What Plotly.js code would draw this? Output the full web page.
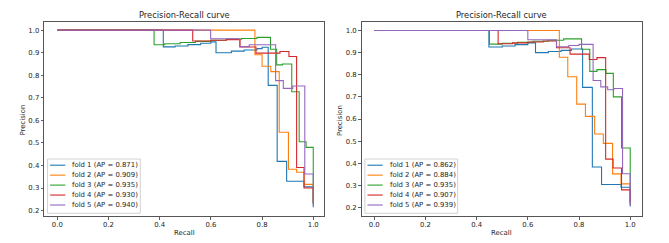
<!DOCTYPE html>
<html><head><meta charset="utf-8">
<script src="https://cdn.plot.ly/plotly-3.0.1.min.js"></script>
<style>html,body{margin:0;padding:0;background:#fff;}#chart{width:669px;height:243px;}</style>
</head><body><div id="chart"></div>
<script>
// ---- data ----
const foldNames = ['fold 1','fold 2','fold 3','fold 4','fold 5'];
const colors = ['#1f77b4','#ff7f0e','#2ca02c','#d62728','#9467bd'];
const apLeft  = ['0.871','0.909','0.935','0.930','0.940'];
const apRight = ['0.862','0.884','0.935','0.907','0.939'];

// Left panel
const L1r = [0,0.414,0.46,0.51,0.56,0.60,0.62,0.68,0.73,0.78,0.80,0.824,0.859,0.896,0.964,1.0];
const L1p = [1.0,0.926,0.930,0.936,0.942,0.948,0.900,0.907,0.912,0.918,0.924,0.755,0.418,0.330,0.305,0.215];
const L2r = [0,0.772,0.800,0.834,0.867,0.903,0.935,0.964,1.0];
const L2p = [1.0,0.891,0.840,0.816,0.547,0.383,0.370,0.316,0.240];
const L3r = [0,0.378,0.42,0.48,0.54,0.60,0.66,0.72,0.78,0.833,0.857,0.88,0.916,0.945,0.972,1.0];
const L3p = [1.0,0.935,0.940,0.945,0.950,0.955,0.960,0.963,0.968,0.915,0.846,0.850,0.727,0.505,0.480,0.230];
const L4r = [0,0.529,0.60,0.66,0.714,0.776,0.87,0.905,0.935,0.964,1.0];
const L4p = [1.0,0.952,0.955,0.958,0.925,0.898,0.905,0.883,0.391,0.300,0.235];
const L5r = [0,0.599,0.712,0.75,0.853,0.883,0.92,0.967,1.0];
const L5p = [1.0,0.962,0.927,0.935,0.776,0.742,0.752,0.362,0.225];

// Right panel
const R1r = [0,0.448,0.50,0.55,0.60,0.63,0.68,0.73,0.77,0.814,0.852,0.888,0.964,1.0];
const R1p = [1.0,0.925,0.930,0.936,0.944,0.900,0.905,0.910,0.916,0.743,0.383,0.304,0.292,0.205];
const R2r = [0,0.723,0.756,0.791,0.825,0.861,0.895,0.931,0.964,1.0];
const R2p = [1.0,0.879,0.791,0.667,0.612,0.532,0.490,0.352,0.307,0.215];
const R3r = [0,0.450,0.50,0.56,0.62,0.68,0.74,0.81,0.842,0.87,0.905,0.934,0.966,1.0];
const R3p = [1.0,0.938,0.942,0.946,0.951,0.956,0.962,0.915,0.815,0.823,0.806,0.700,0.469,0.220];
const R4r = [0,0.484,0.54,0.60,0.66,0.712,0.765,0.84,0.87,0.904,0.933,0.966,1.0];
const R4p = [1.0,0.940,0.944,0.948,0.952,0.922,0.893,0.869,0.877,0.419,0.379,0.280,0.225];
const R5r = [0,0.600,0.712,0.76,0.80,0.855,0.885,0.912,0.936,0.970,1.0];
const R5p = [1.0,0.958,0.926,0.932,0.937,0.774,0.745,0.732,0.738,0.353,0.210];

const xTicks = [0,0.2,0.4,0.6,0.8,1.0];
const yTicks = [0.2,0.3,0.4,0.5,0.6,0.7,0.8,0.9,1.0];
const titleText = 'Precision-Recall curve';

// ---- layout helpers ----
const W = 669, H = 243;
const px = x => x / W;
const py = y => 1 - y / H;
const FONT = 'DejaVu Sans, sans-serif';
const TXT = '#262626';
const FS = 6.9;

const leftCurves = [[L1r,L1p],[L2r,L2p],[L3r,L3p],[L4r,L4p],[L5r,L5p]];
const rightCurves = [[R1r,R1p],[R2r,R2p],[R3r,R3p],[R4r,R4p],[R5r,R5p]];

const traces = [];
leftCurves.forEach((c,i) => traces.push({x:c[0], y:c[1], type:'scatter', mode:'lines',
  line:{color:colors[i], width:1.1, shape:'hv'}, xaxis:'x', yaxis:'y', showlegend:false, hoverinfo:'skip'}));
rightCurves.forEach((c,i) => traces.push({x:c[0], y:c[1], type:'scatter', mode:'lines',
  line:{color:colors[i], width:1.1, shape:'hv'}, xaxis:'x2', yaxis:'y2', showlegend:false, hoverinfo:'skip'}));

const frameL = {l:44.3, r:324}, frameR = {l:361.7, r:642};
const frameTop = 21.8, frameBot = 216.2;

function axis(dom, range, ticks, anchor, isX){
  const a = {domain:dom, range:range, tickvals:ticks, ticktext:ticks.map(v=>v.toFixed(1)),
    ticks:'outside', ticklen:2.6, tickwidth:0.8, tickcolor:'#333',
    showline:true, mirror:true, linecolor:'#555', linewidth:1,
    showgrid:false, zeroline:false, anchor:anchor,
    tickfont:{family:FONT, size:FS, color:TXT}, fixedrange:true};
  if (isX) a.ticklabelstandoff = -1;
  return a;
}

const shapes = [], annotations = [];
function addPanel(frame, ap){
  const cx = (frame.l + frame.r)/2;
  annotations.push({text:titleText, xref:'paper', yref:'paper', x:px(cx), y:py(15), xanchor:'center', yanchor:'middle',
    showarrow:false, font:{family:FONT, size:8.3, color:TXT}});
  annotations.push({text:'Recall', xref:'paper', yref:'paper', x:px(cx), y:py(233.3), xanchor:'center', yanchor:'middle',
    showarrow:false, font:{family:FONT, size:FS, color:TXT}});
  annotations.push({text:'Precision', xref:'paper', yref:'paper', x:px(frame.l-21.8), y:py(120), xanchor:'center', yanchor:'middle',
    textangle:-90, showarrow:false, font:{family:FONT, size:FS, color:TXT}});
  shapes.push({type:'rect', xref:'paper', yref:'paper', x0:px(frame.l+3.2), x1:px(frame.l+96), y0:py(159), y1:py(213.3),
    line:{color:'#d3d3d3', width:1}, fillcolor:'rgba(255,255,255,0.85)', layer:'above'});
  foldNames.forEach((n,i) => {
    const yy = 165.2 + i*9.95;
    shapes.push({type:'line', xref:'paper', yref:'paper', x0:px(frame.l+5.8), x1:px(frame.l+21), y0:py(yy), y1:py(yy),
      line:{color:colors[i], width:1.1}, layer:'above'});
    annotations.push({text:n + ' (AP = ' + ap[i] + ')', xref:'paper', yref:'paper', x:px(frame.l+25.8), y:py(yy),
      xanchor:'left', yanchor:'middle', showarrow:false, font:{family:FONT, size:FS, color:TXT}});
  });
}
addPanel(frameL, apLeft);
addPanel(frameR, apRight);

const layout = {
  width:W, height:H, margin:{l:0,r:0,t:0,b:0}, paper_bgcolor:'#fff', plot_bgcolor:'#fff',
  showlegend:false,
  xaxis: axis([px(frameL.l), px(frameL.r)], [-0.051, 1.042], xTicks, 'y', true),
  yaxis: axis([py(frameBot), py(frameTop)], [0.175, 1.037], yTicks, 'x', false),
  xaxis2: axis([px(frameR.l), px(frameR.r)], [-0.049, 1.046], xTicks, 'y2', true),
  yaxis2: axis([py(frameBot), py(frameTop)], [0.161, 1.039], yTicks, 'x2', false),
  shapes:shapes, annotations:annotations
};
Plotly.newPlot('chart', traces, layout, {staticPlot:true, displayModeBar:false});
</script></body></html>
